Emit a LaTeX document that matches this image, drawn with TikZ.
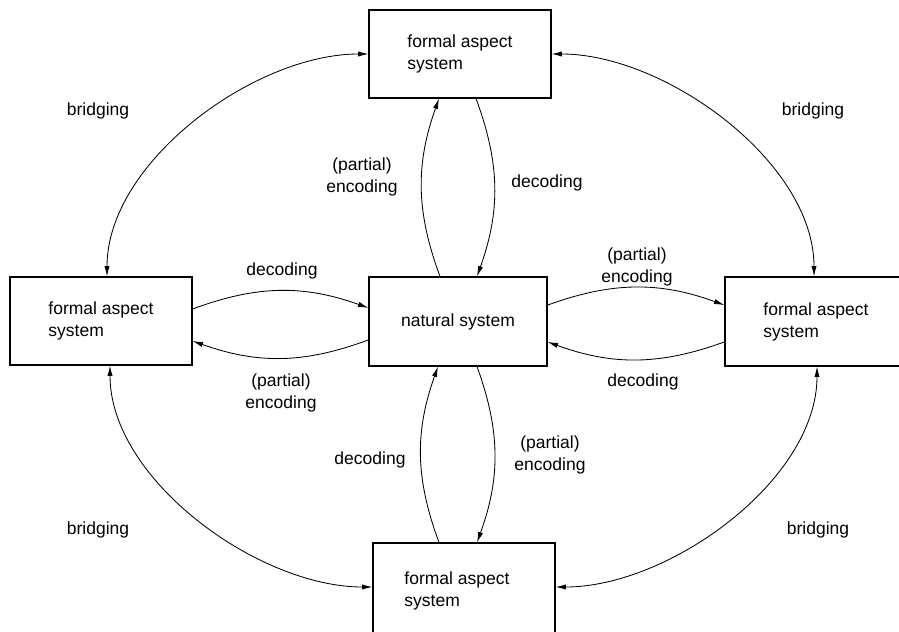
\documentclass[tikz,border=0pt]{standalone}
\usepackage{fontspec}
\setmainfont{Liberation Sans}
\usetikzlibrary{arrows.meta}

\tikzset{
  box/.style={draw, line width=0.8pt, minimum width=4.55cm, minimum height=2.2cm, align=left, font=\fontsize{12.45}{15.6}\selectfont},
  lbl/.style={align=center, font=\fontsize{12.45}{15.6}\selectfont},
  conn/.style={line width=0.6pt, -{Latex[length=0.26cm,width=0.13cm]}, bend left=20},
  bridge/.style={line width=0.6pt, {Latex[length=0.26cm,width=0.13cm]}-{Latex[length=0.26cm,width=0.13cm]}, looseness=0.85}
}

\begin{document}
\begin{tikzpicture}[x=0.025cm, y=-0.025cm]
\useasboundingbox (0,0) rectangle (899,631);
% the five systems (right and bottom ones run off the page)
\node[box] (ftop) at (460,54) {formal aspect\\system};
\node[box] (fleft) at (101,321) {formal aspect\\system};
\node[box, minimum width=4.45cm, minimum height=2.225cm] (nat) at (458,321.5) {natural system};
\node[box, minimum width=4.75cm, minimum height=2.225cm] (fright) at (820,321.5) {formal aspect\hspace*{0.2cm}\\system};
\node[box, minimum height=2.4cm] (fbot) at (464,591) {formal aspect\hspace*{0.35cm}\\system};

% encoding and decoding
\draw[conn] ([xshift=-0.45cm]nat.north) to ([xshift=-0.525cm]ftop.south);
\draw[conn] ([xshift=0.4cm]ftop.south) to ([xshift=0.475cm]nat.north);
\draw[conn] ([yshift=0.3cm]fleft.east) to ([yshift=0.34cm]nat.west);
\draw[conn] ([yshift=-0.46cm]nat.west) to ([yshift=-0.5cm]fleft.east);
\draw[conn] ([yshift=0.41cm]nat.east) to ([yshift=0.41cm]fright.west);
\draw[conn] ([yshift=-0.51cm]fright.west) to ([yshift=-0.51cm]nat.east);
\draw[conn] ([xshift=-0.625cm]fbot.north) to ([xshift=-0.5cm]nat.south);
\draw[conn] ([xshift=0.475cm]nat.south) to ([xshift=0.325cm]fbot.north);

% bridging
\draw[bridge] ([xshift=0.15cm]fleft.north) to[out=90,in=180] (ftop.west);
\draw[bridge] (ftop.east) to[out=0,in=90] ([xshift=-0.15cm]fright.north);
\draw[bridge] ([xshift=0.225cm]fleft.south) to[out=-90,in=180] ([yshift=0.1cm]fbot.west);
\draw[bridge] ([yshift=0.1cm]fbot.east) to[out=0,in=-90] ([xshift=-0.075cm]fright.south);

% labels
\node[lbl] (brtl) at (98,111) {bridging};
\node[lbl] (brtr) at (813,111) {bridging};
\node[lbl] (brbl) at (98,530) {bridging};
\node[lbl] (brbr) at (818,530) {bridging};
\node[lbl] (enctop) at (362,177) {(partial)\\encoding};
\node[lbl] (dectop) at (547,183) {decoding};
\node[lbl] (decleft) at (282,271) {decoding};
\node[lbl] (encleft) at (281,393) {(partial)\\encoding};
\node[lbl] (encright) at (637,267) {(partial)\\encoding};
\node[lbl] (decright) at (643,382) {decoding};
\node[lbl] (decbot) at (370,460) {decoding};
\node[lbl] (encbot) at (550,455) {(partial)\\encoding};
\end{tikzpicture}
\end{document}
